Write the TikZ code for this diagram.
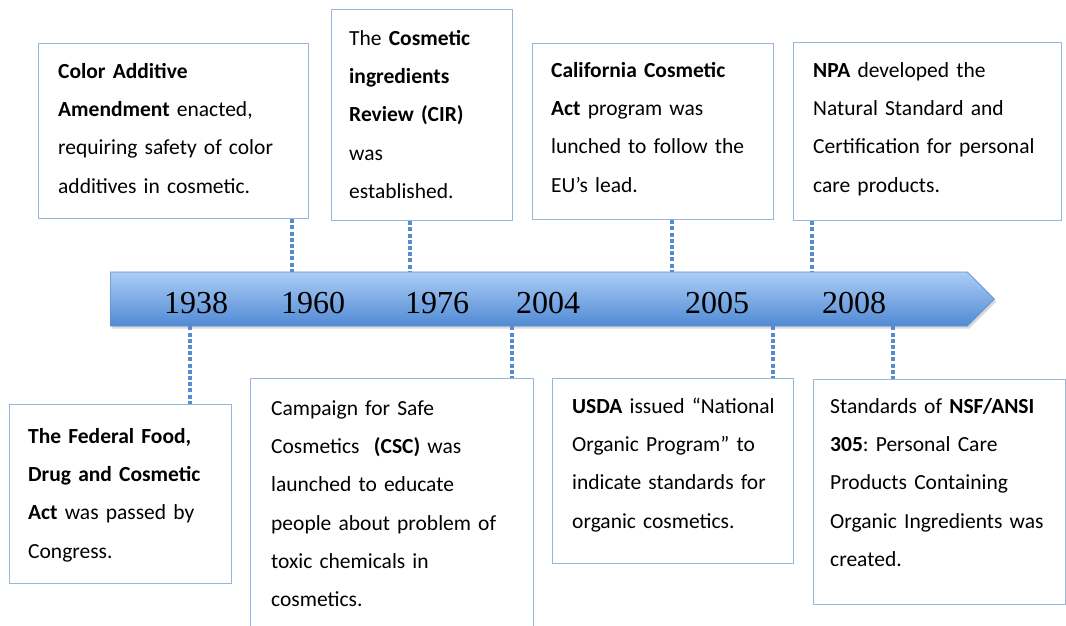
\documentclass[tikz,border=0pt]{standalone}
\usepackage{fontspec}
\setmainfont{Carlito}
\newfontfamily\yearfont{Liberation Serif}
\usetikzlibrary{shapes.arrows,shadows,positioning}
\frenchspacing

\definecolor{barTop}{RGB}{172,205,245}
\definecolor{barBot}{RGB}{80,138,212}
\definecolor{barEdge}{RGB}{92,142,205}
\definecolor{boxLine}{RGB}{150,182,222}
\definecolor{dotLine}{RGB}{86,140,206}

\tikzset{
  event/.style={draw=boxLine, line width=1.2pt, fill=white, anchor=north west, inner sep=0pt},
  note/.style={anchor=north west, inner sep=0pt, text width=275pt, align=left,
               font=\fontsize{21.5}{38.3}\selectfont},
  link/.style={draw=dotLine, line width=4pt, dash pattern=on 4pt off 2.2pt},
  year/.style={anchor=base, font=\yearfont\fontsize{32}{36}\selectfont}
}

\begin{document}
\begin{tikzpicture}[x=1pt, y=-1pt]
  \useasboundingbox (0,0) rectangle (1066,626);

  % timeline
  \node[single arrow, single arrow head extend=0pt, single arrow tip angle=90,
        minimum height=884pt, minimum width=54pt, inner sep=0pt, anchor=west,
        top color=barTop, bottom color=barBot, draw=barEdge, line width=0.6pt,
        drop shadow={opacity=0.3, shadow xshift=2pt, shadow yshift=-2.5pt}]
        (bar) at (110,299) {};

  \foreach \yr/\xp in {1938/196, 1960/313, 1976/437, 2004/548, 2005/717, 2008/854} {
    \node[year] (y\yr) at (\xp,313) {\yr};
  }

  % boxes: name/x/y/width/height
  \foreach \name/\x/\y/\w/\h in {add/38/43/270/175, cir/331/9/181/211, cal/532/43/241/176,
                                 npa/793/42/268/178, ffd/9/404/222/179, csc/250/378/283/270,
                                 usda/552/378/241/185, nsf/813/379/252/225} {
    \node[event, minimum width=\w pt, minimum height=\h pt] (\name) at (\x,\y) {};
  }

  \node[note] (add-t) at (58,51.2) {\strut\textbf{Color Additive}\\
    \textbf{Amendment} enacted,\\ requiring safety of color\\ additives in cosmetic.};
  \node[note] (cir-t) at (349,18.2) {\strut The \textbf{Cosmetic}\\ \textbf{ingredients}\\
    \textbf{Review (CIR)}\\ was\\ established.};
  \node[note] (cal-t) at (551,50.2) {\strut\textbf{California Cosmetic}\\
    \textbf{Act} program was\\ lunched to follow the\\ EU’s lead.};
  \node[note] (npa-t) at (813,50.2) {\strut\textbf{NPA} developed the\\
    Natural Standard and\\ Certification for personal\\ care products.};
  \node[note] (ffd-t) at (28,416.2) {\strut\textbf{The Federal Food,}\\
    \textbf{Drug and Cosmetic}\\ \textbf{Act} was passed by\\ Congress.};
  \node[note] (csc-t) at (271,388.2) {\strut Campaign for Safe\\
    Cosmetics\ \ \textbf{(CSC)} was\\ launched to educate\\ people about problem of\\
    toxic chemicals in\\ cosmetics.};
  \node[note] (usda-t) at (572,386.2) {\strut\textbf{USDA} issued “National\\
    Organic Program” to\\ indicate standards for\\ organic cosmetics.};
  \node[note] (nsf-t) at (830,386.2) {\strut Standards of \textbf{NSF/ANSI}\\
    \textbf{305}: Personal Care\\ Products Containing\\ Organic Ingredients was\\ created.};

  % dotted links
  \coordinate (k1960) at ([xshift=-17pt]add.south east);
  \coordinate (k1976) at ([xshift=79pt]cir.south west);
  \coordinate (k2005) at ([xshift=140pt]cal.south west);
  \coordinate (k2008) at ([xshift=19pt]npa.south west);
  \coordinate (k1938) at ([xshift=181pt]ffd.north west);
  \coordinate (k2004) at ([xshift=262pt]csc.north west);
  \coordinate (k2005b) at ([xshift=221pt]usda.north west);
  \coordinate (k2008b) at ([xshift=80pt]nsf.north west);

  \foreach \k in {k1960,k1976,k2005,k2008} {
    \draw[link] (\k) -- (\k |- bar.north);
  }
  \foreach \k in {k1938,k2004,k2005b,k2008b} {
    \draw[link] (\k |- bar.south) -- (\k);
  }
\end{tikzpicture}
\end{document}
